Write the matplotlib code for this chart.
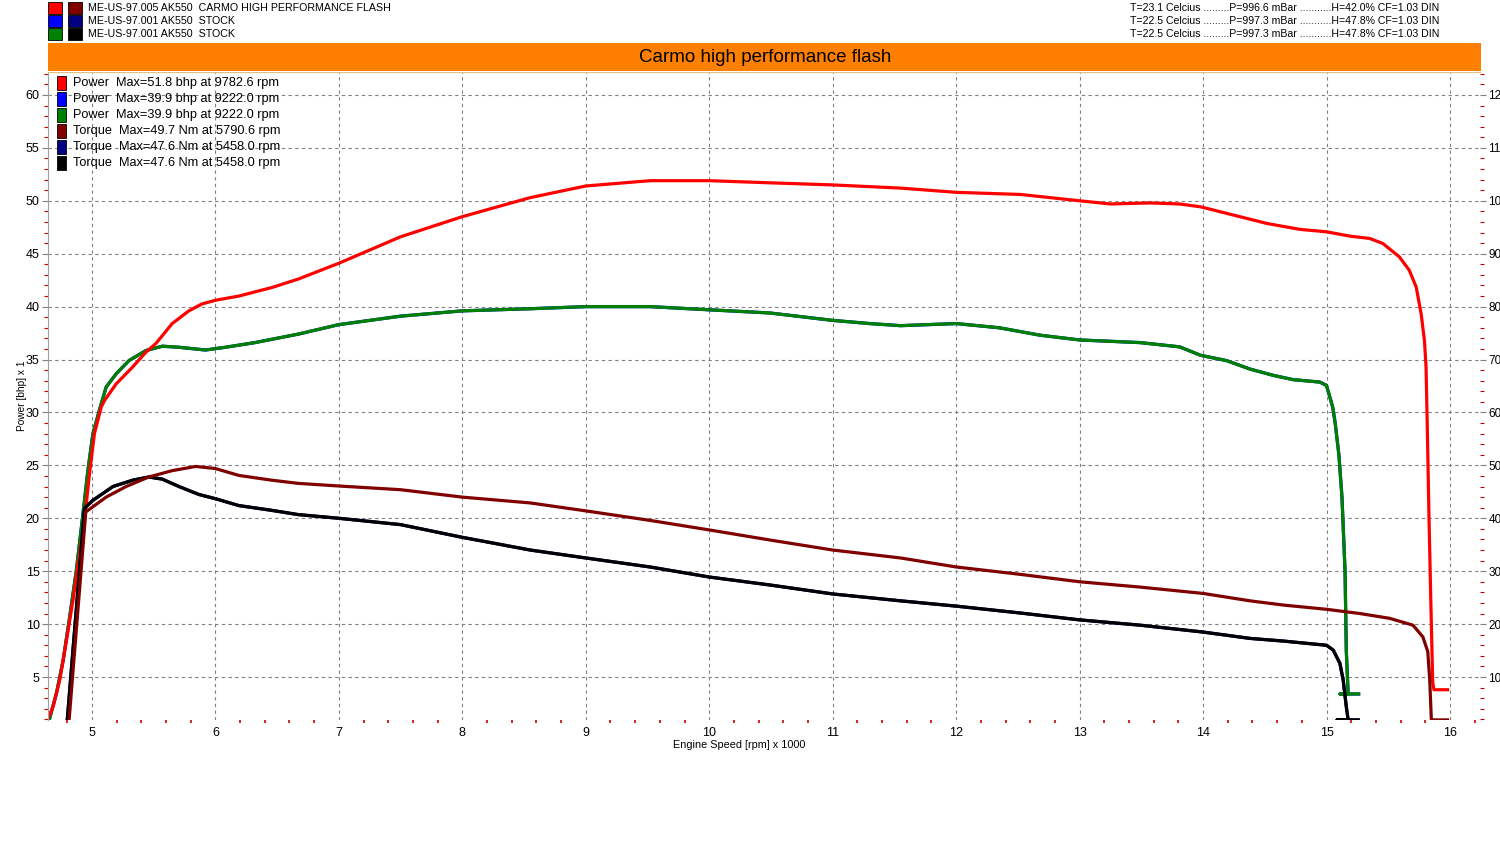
import matplotlib
matplotlib.use("Agg")
import matplotlib.pyplot as plt
from matplotlib.patches import Rectangle
from matplotlib.ticker import MultipleLocator

plt.rcParams['font.family'] = ['Liberation Sans', 'DejaVu Sans']

# --- run info -------------------------------------------------------------
run_names = ['ME-US-97.005 AK550  CARMO HIGH PERFORMANCE FLASH',
             'ME-US-97.001 AK550  STOCK',
             'ME-US-97.001 AK550  STOCK']
run_conditions = ['T=23.1 Celcius .........P=996.6 mBar ...........H=42.0% CF=1.03 DIN',
                  'T=22.5 Celcius .........P=997.3 mBar ...........H=47.8% CF=1.03 DIN',
                  'T=22.5 Celcius .........P=997.3 mBar ...........H=47.8% CF=1.03 DIN']
power_colors = ['#ff0000', '#0000ff', '#008000']
torque_colors = ['#800000', '#000080', '#000000']
power_max = [51.8, 39.9, 39.9]
power_max_rpm = [9782.6, 9222.0, 9222.0]
torque_max = [49.7, 47.6, 47.6]
torque_max_rpm = [5790.6, 5458.0, 5458.0]
title = 'Carmo high performance flash'

# --- curves (rpm x 1000) ----------------------------------------------------
rpm_flash_power = [4.638, 4.686, 4.74, 4.794, 4.847, 4.90, 4.94, 4.98, 5.02, 5.075,
                   5.10, 5.196, 5.33, 5.437, 5.517, 5.65, 5.785, 5.89, 6.0, 6.19,
                   6.456, 6.67, 7.0, 7.5, 8.0, 8.55, 9.0, 9.52, 10.0, 10.49,
                   11.0, 11.55, 12.0, 12.52, 13.0, 13.25, 13.57, 13.81, 13.98, 14.25,
                   14.52, 14.785, 15.0, 15.19, 15.35, 15.457, 15.59, 15.67, 15.726, 15.766,
                   15.793, 15.806, 15.815, 15.83, 15.845, 15.86, 15.87, 15.98]
flash_power = [0.94, 2.23, 4.75, 8.5, 12.3, 16.7, 19.8, 24.2, 28.0, 30.5,
               31.1, 32.7, 34.3, 35.7, 36.5, 38.4, 39.6, 40.25, 40.6, 41.0,
               41.8, 42.6, 44.1, 46.6, 48.5, 50.3, 51.4, 51.9, 51.9, 51.7,
               51.5, 51.2, 50.8, 50.6, 50.0, 49.7, 49.8, 49.7, 49.43, 48.64,
               47.85, 47.3, 47.07, 46.66, 46.44, 45.96, 44.7, 43.44, 41.86, 39.34,
               36.8, 34.3, 29.2, 20.0, 12.0, 4.5, 3.8, 3.8]

rpm_stock_power = [4.654, 4.713, 4.767, 4.82, 4.874, 4.928, 4.968, 5.008, 5.06, 5.115,
                   5.196, 5.30, 5.437, 5.57, 5.705, 5.92, 6.08, 6.32, 6.67, 7.0,
                   7.5, 8.0, 8.55, 9.0, 9.52, 10.0, 10.49, 11.0, 11.3, 11.55,
                   12.0, 12.35, 12.68, 13.0, 13.49, 13.81, 13.98, 14.19, 14.38, 14.57,
                   14.73, 14.946, 15.0, 15.05, 15.07, 15.1, 15.125, 15.15, 15.16, 15.175,
                   15.11, 15.26]
stock_power = [0.94, 3.5, 6.6, 10.7, 15.1, 20.5, 24.6, 28.0, 30.2, 32.4,
               33.65, 34.9, 35.85, 36.26, 36.16, 35.9, 36.16, 36.6, 37.4, 38.3,
               39.1, 39.6, 39.8, 40.0, 40.0, 39.7, 39.4, 38.7, 38.4, 38.2,
               38.4, 38.0, 37.3, 36.85, 36.6, 36.2, 35.4, 34.9, 34.1, 33.5,
               33.1, 32.87, 32.55, 30.5, 29.0, 26.0, 22.0, 15.0, 7.5, 3.4,
               3.4, 3.4]

rpm_flash_torque = [4.815, 4.95, 5.115, 5.276, 5.46, 5.65, 5.84, 6.0, 6.19, 6.456,
                    6.67, 7.0, 7.5, 8.0, 8.55, 9.0, 9.52, 10.0, 10.49, 11.0,
                    11.55, 12.0, 12.52, 13.0, 13.49, 14.0, 14.38, 14.65, 15.0, 15.27,
                    15.51, 15.70, 15.78, 15.82, 15.836, 15.849, 15.98]
flash_torque_nm = [1.9, 41.2, 44.0, 46.0, 47.8, 49.0, 49.8, 49.4, 48.1, 47.2,
                   46.6, 46.1, 45.4, 44.0, 42.9, 41.4, 39.6, 37.8, 35.9, 34.0,
                   32.5, 30.8, 29.4, 28.0, 27.0, 25.8, 24.4, 23.6, 22.8, 22.0,
                   21.1, 19.8, 17.6, 14.8, 9.4, 1.9, 1.9]

rpm_stock_torque = [4.80, 4.94, 5.008, 5.17, 5.33, 5.46, 5.57, 5.705, 5.866, 6.0,
                    6.19, 6.456, 6.67, 7.0, 7.5, 8.0, 8.55, 9.0, 9.52, 10.0,
                    10.49, 11.0, 11.55, 12.0, 12.52, 13.0, 13.49, 14.0, 14.38, 14.65,
                    15.0, 15.054, 15.108, 15.135, 15.16, 15.175, 15.086, 15.256]
stock_torque_nm = [1.9, 41.9, 43.4, 46.0, 47.2, 47.8, 47.4, 46.0, 44.5, 43.7,
                   42.4, 41.5, 40.7, 40.0, 38.8, 36.4, 34.0, 32.5, 30.8, 28.9,
                   27.4, 25.7, 24.4, 23.4, 22.1, 20.8, 19.8, 18.5, 17.3, 16.8,
                   16.0, 15.1, 12.6, 9.4, 4.4, 1.9, 1.9, 1.9]

W, H = 1500, 850


def fx(px):
    return px / W


def fy(py):
    return 1 - py / H


fig = plt.figure(figsize=(15, 8.5), dpi=100)
ax = fig.add_axes([fx(48), fy(720), fx(1480) - fx(48), fy(72) - fy(720)])
ax2 = ax.twinx()

ax.set_xlim(4.644, 16.243)
ax.set_ylim(0.94, 62.17)
ax2.set_ylim(1.88, 124.34)

lw = 2.3
# stock run plotted twice (blue/navy hidden below green/black)
ax.plot(rpm_stock_power, stock_power, color=power_colors[1], lw=lw)
ax.plot(rpm_stock_power, stock_power, color=power_colors[2], lw=lw)
ax.plot(rpm_flash_power, flash_power, color=power_colors[0], lw=lw)
ax2.plot(rpm_stock_torque, stock_torque_nm, color=torque_colors[1], lw=lw)
ax2.plot(rpm_stock_torque, stock_torque_nm, color=torque_colors[2], lw=lw)
ax2.plot(rpm_flash_torque, flash_torque_nm, color=torque_colors[0], lw=lw)

# grid and ticks
ax.xaxis.set_minor_locator(MultipleLocator(0.2))
ax.yaxis.set_minor_locator(MultipleLocator(1))
ax.set_yticks(range(5, 61, 5))
ax.set_xticks(range(5, 17))
ax2.set_yticks(range(10, 121, 10))
ax2.yaxis.set_minor_locator(MultipleLocator(2))
ax.grid(True, which='major', color='#808080', ls=(0, (3, 3)), lw=0.8)

ax.tick_params(axis='x', which='major', length=0, pad=5, labelsize=9)
ax.tick_params(axis='x', which='minor', length=2.5, width=1.2, color='#cc0000')
ax.tick_params(axis='y', which='major', length=4, width=0.8, color='#808080', pad=2, labelsize=9)
ax.tick_params(axis='y', which='minor', length=3, width=0.8, color='#cc0000')
ax2.tick_params(axis='y', which='major', length=4, width=0.8, color='#808080', pad=2, labelsize=8.5)
ax2.tick_params(axis='y', which='minor', length=3, width=0.8, color='#cc0000')

for s in ['right', 'bottom']:
    ax.spines[s].set_visible(False)
ax.spines['left'].set_color('#a0a0a0')
ax.spines['top'].set_color('#e0c080')
for s in ax2.spines.values():
    s.set_visible(False)

ax.set_ylabel('Power [bhp] x 1', fontsize=7.3)
ax.yaxis.set_label_coords(-0.015, 0.5)
ax.set_xlabel('Engine Speed [rpm] x 1000', fontsize=7.8)
ax.xaxis.set_label_coords(0.483, -0.031)

# header
fig.patches.append(Rectangle((fx(48), fy(71)), fx(1481) - fx(48), fy(43) - fy(71),
                             transform=fig.transFigure, facecolor='#ff8000', edgecolor='none'))
fig.text(fx(765), fy(57), title, ha='center', va='center', fontsize=13.5)

for i, name in enumerate(run_names):
    yc = 8 + 13 * i
    for x0, c in [(48, power_colors[i]), (68, torque_colors[i])]:
        fig.patches.append(Rectangle((fx(x0), fy(yc + 6)), fx(14), 12 / H,
                                     transform=fig.transFigure, facecolor=c,
                                     edgecolor='black', lw=0.6))
    fig.text(fx(88), fy(yc), name, ha='left', va='center', fontsize=7.7)
    fig.text(fx(1130), fy(yc), run_conditions[i], ha='left', va='center', fontsize=7.6)

# inner max legend
entries = []
for i in range(3):
    entries.append((power_colors[i], f'Power  Max={power_max[i]:.1f} bhp at {power_max_rpm[i]:.1f} rpm'))
for i in range(3):
    entries.append((torque_colors[i], f'Torque  Max={torque_max[i]:.1f} Nm at {torque_max_rpm[i]:.1f} rpm'))
for i, (c, label) in enumerate(entries):
    yc = 83 + 16 * i
    fig.patches.append(Rectangle((fx(57), fy(yc + 7)), fx(9), 14 / H,
                                 transform=fig.transFigure, facecolor=c,
                                 edgecolor='black', lw=0.6))
    fig.text(fx(73), fy(yc), label, ha='left', va='center', fontsize=9.2)

fig.savefig('out.png', dpi=100)
